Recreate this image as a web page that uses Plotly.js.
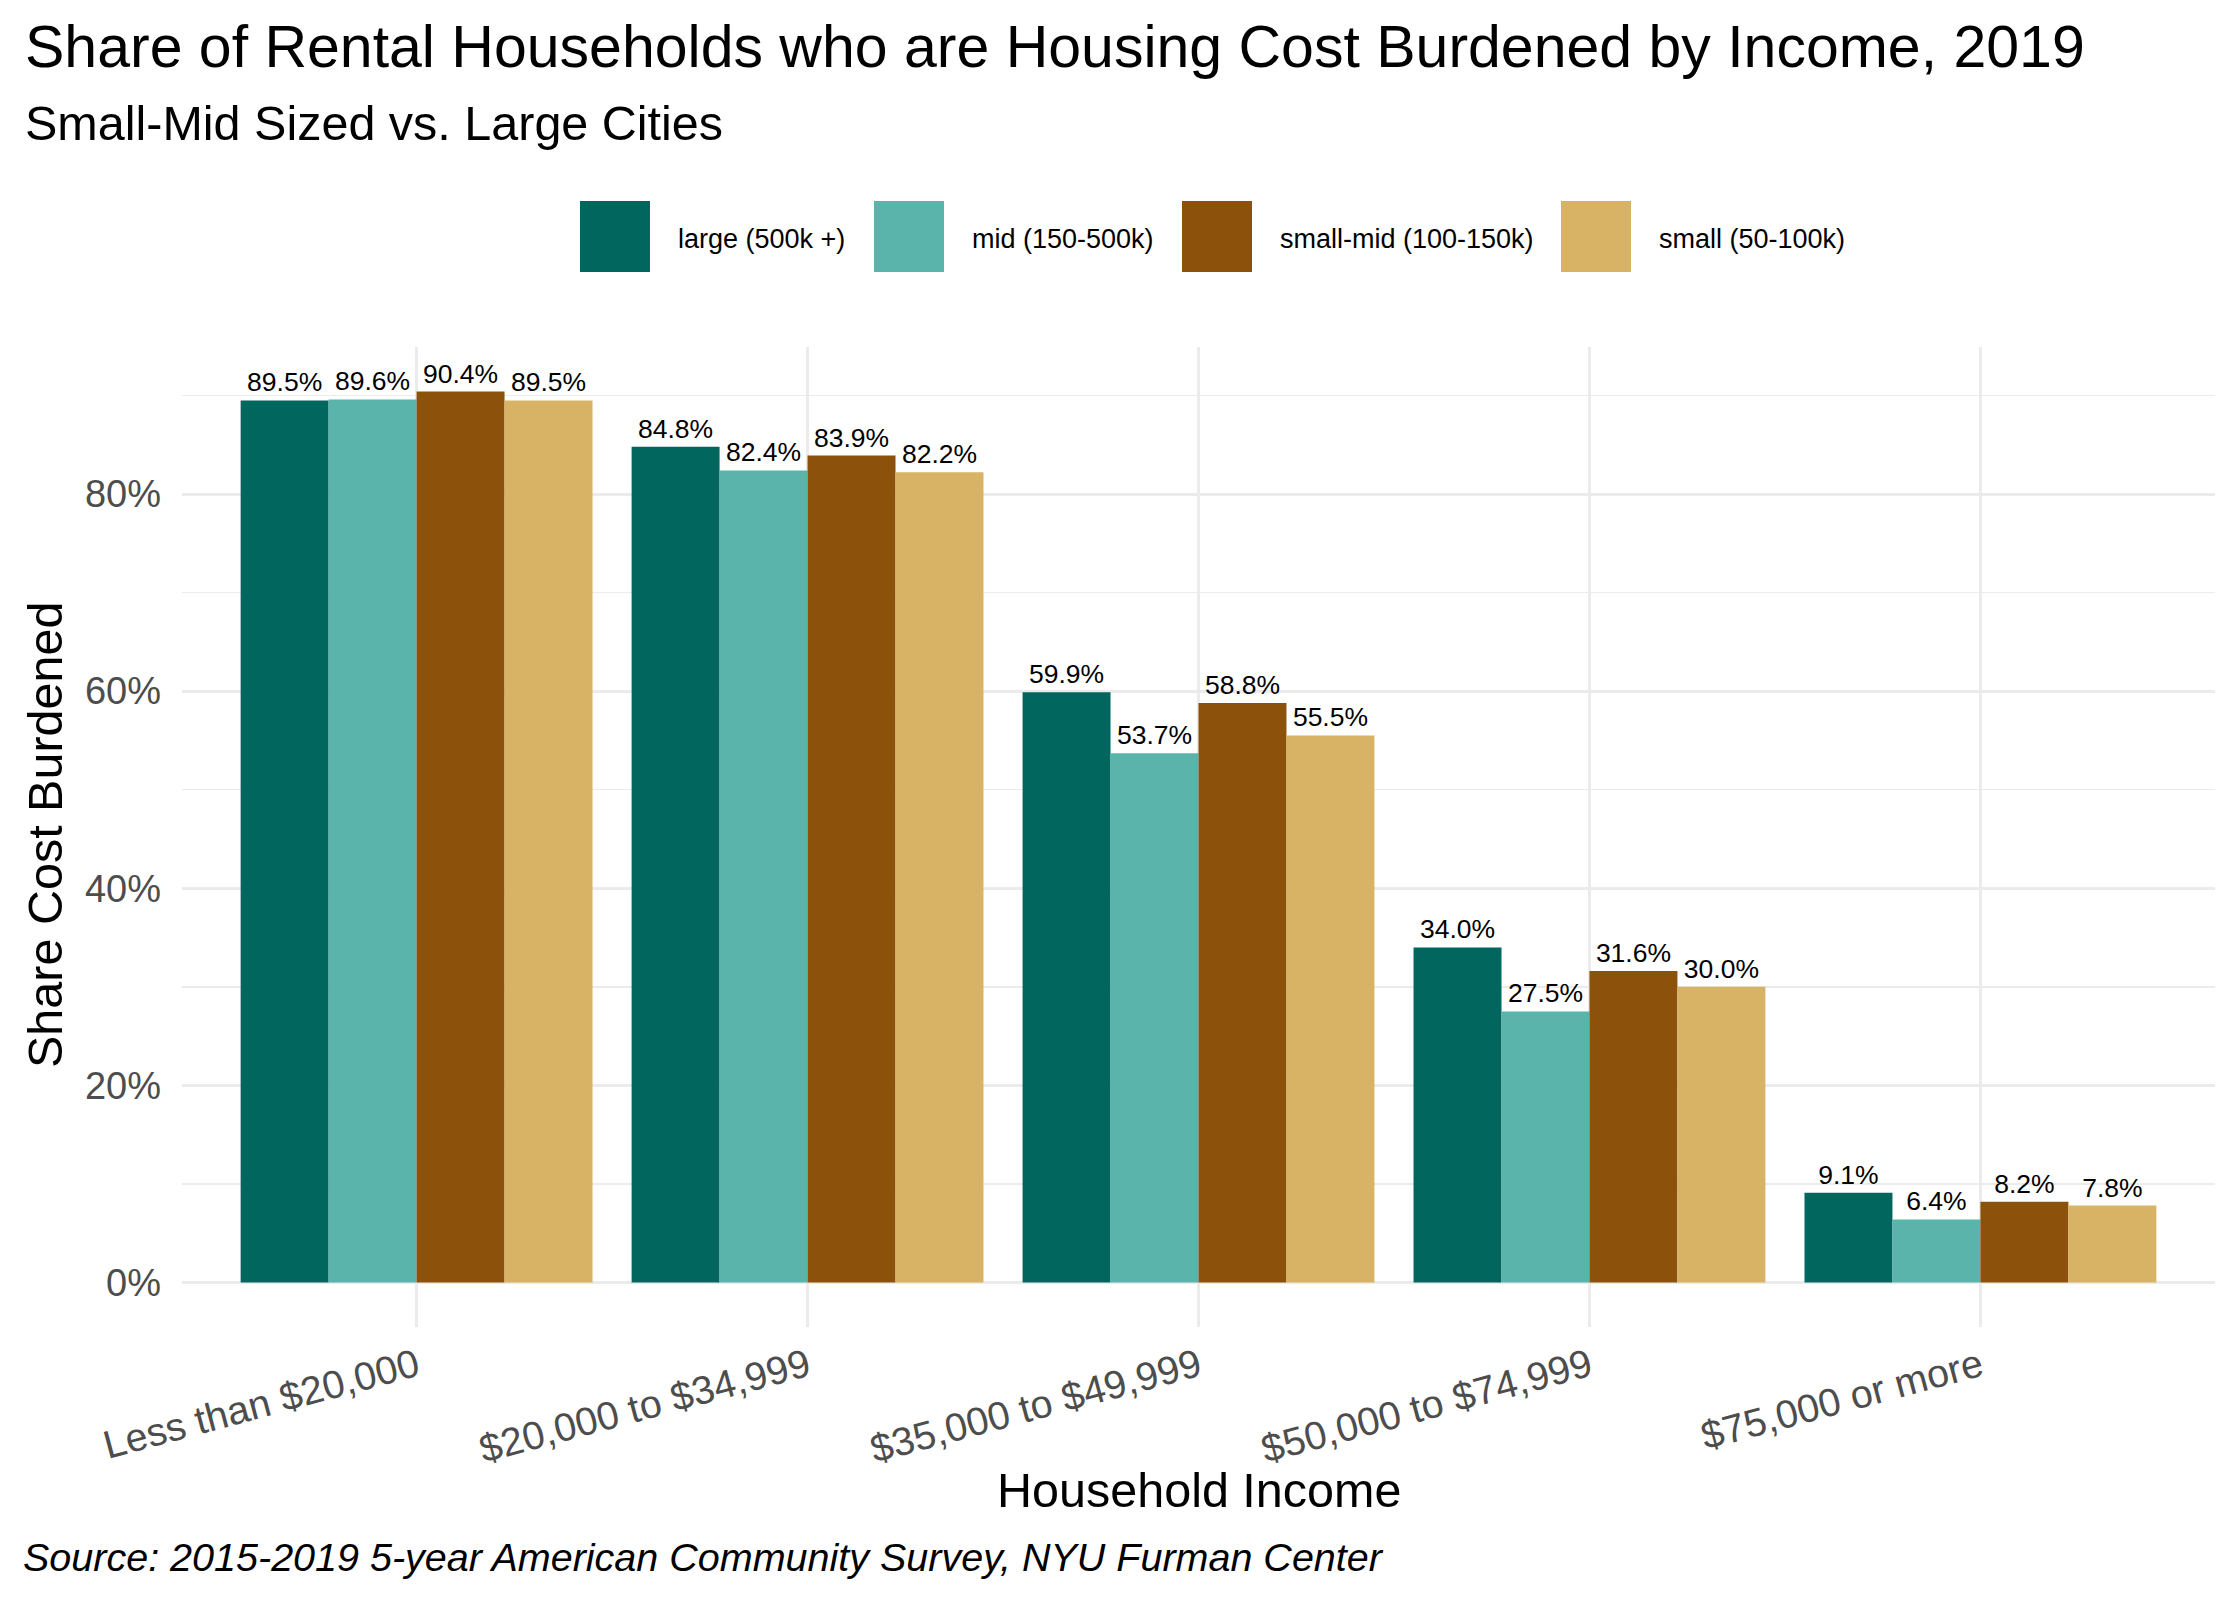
<!DOCTYPE html>
<html>
<head>
<meta charset="utf-8">
<script src="https://cdn.plot.ly/plotly-3.0.1.min.js"></script>
<style>html,body{margin:0;padding:0;background:#fff;}#chart{width:2240px;height:1600px;}</style>
</head>
<body>
<div id="chart"></div>
<script>
// ---- data ----
const categories = ["Less than $20,000", "$20,000 to $34,999", "$35,000 to $49,999", "$50,000 to $74,999", "$75,000 or more"];
const seriesNames = ["large (500k +)", "mid (150-500k)", "small-mid (100-150k)", "small (50-100k)"];
const large = [89.5, 84.8, 59.9, 34.0, 9.1];
const mid = [89.6, 82.4, 53.7, 27.5, 6.4];
const smallMid = [90.4, 83.9, 58.8, 31.6, 8.2];
const small = [89.5, 82.2, 55.5, 30.0, 7.8];
const yTickVals = [0, 20, 40, 60, 80];
const yTickText = ["0%", "20%", "40%", "60%", "80%"];

// ---- styles ----
const colors = ["#01665E", "#5AB4AC", "#8C510A", "#D8B365"];
const FONT = "Liberation Sans, Arial, Helvetica, sans-serif";
const W = 2240, H = 1600, ML = 182, MR = 25, MT = 347, MB = 273;
const PW = W - ML - MR, PH = H - MT - MB;
const px = x => (x - ML) / PW;
const py = y => (H - MB - y) / PH;

const allSeries = [large, mid, smallMid, small];
const traces = allSeries.map((vals, i) => ({
  type: "bar",
  name: seriesNames[i],
  x: categories,
  y: vals,
  marker: {color: colors[i], line: {width: 0}},
  text: vals.map(v => v.toFixed(1) + "%"),
  textposition: "outside",
  textfont: {family: FONT, size: 26.5, color: "#000000"},
  constraintext: "none",
  cliponaxis: false,
  hoverinfo: "skip",
  showlegend: false
}));

const ymax = Math.max(...allSeries.flat());
const pad = ymax * 0.05;

// manual legend (ggplot-style large keys)
const keyLeft = [580, 874, 1182, 1561];
const textLeft = [676, 970, 1278, 1657];
const keyTop = 201, keyBottom = 272, keyMid = 239;
const shapes = seriesNames.map((n, i) => ({
  type: "rect", xref: "paper", yref: "paper",
  x0: px(keyLeft[i]), x1: px(keyLeft[i] + 70),
  y0: py(keyBottom), y1: py(keyTop),
  fillcolor: colors[i], line: {width: 0}
}));
const annotations = seriesNames.map((n, i) => ({
  xref: "paper", yref: "paper", x: px(textLeft[i]), y: py(keyMid),
  xanchor: "left", yanchor: "middle", showarrow: false,
  text: n, font: {family: FONT, size: 27, color: "#000000"}
}));

annotations.push(
  {xref: "paper", yref: "paper", x: px(23), y: py(47), xanchor: "left", yanchor: "middle", showarrow: false,
   text: "Share of Rental Households who are Housing Cost Burdened by Income, 2019",
   font: {family: FONT, size: 59, color: "#000000"}},
  {xref: "paper", yref: "paper", x: px(23), y: py(123), xanchor: "left", yanchor: "middle", showarrow: false,
   text: "Small-Mid Sized vs. Large Cities",
   font: {family: FONT, size: 48.5, color: "#000000"}},
  {xref: "paper", yref: "paper", x: px(1199), y: py(1490), xanchor: "center", yanchor: "middle", showarrow: false,
   text: "Household Income", font: {family: FONT, size: 48.5, color: "#000000"}},
  {xref: "paper", yref: "paper", x: px(45), y: py(835), xanchor: "center", yanchor: "middle", showarrow: false,
   textangle: -90, text: "Share Cost Burdened", font: {family: FONT, size: 48.5, color: "#000000"}},
  {xref: "paper", yref: "paper", x: px(21), y: py(1557), xanchor: "left", yanchor: "middle", showarrow: false,
   text: "<i>Source: 2015-2019 5-year American Community Survey, NYU Furman Center</i>",
   font: {family: FONT, size: 39.5, color: "#000000"}}
);

const layout = {
  width: W, height: H,
  margin: {l: ML, r: MR, t: MT, b: MB, autoexpand: false},
  paper_bgcolor: "#ffffff", plot_bgcolor: "#ffffff",
  barmode: "group", bargap: 0.1, bargroupgap: 0,
  showlegend: false, hovermode: false,
  xaxis: {
    type: "category", range: [-0.6, categories.length - 0.4],
    showgrid: true, gridcolor: "#EBEBEB", gridwidth: 3,
    zeroline: false, showline: false, ticks: "",
    tickangle: -15, ticklabelstandoff: 8,
    tickfont: {family: FONT, size: 39.5, color: "#4D4D4D"},
    automargin: false, fixedrange: true
  },
  yaxis: {
    range: [-pad, ymax + pad],
    tickvals: yTickVals, ticktext: yTickText,
    showgrid: true, gridcolor: "#EBEBEB", gridwidth: 3,
    minor: {dtick: 10, tick0: 0, showgrid: true, gridcolor: "#EBEBEB", gridwidth: 1.5, ticks: ""},
    zeroline: false, showline: false, ticks: "",
    ticklabelstandoff: 20,
    tickfont: {family: FONT, size: 38, color: "#4D4D4D"},
    automargin: false, fixedrange: true
  },
  shapes: shapes,
  annotations: annotations
};

Plotly.newPlot("chart", traces, layout, {staticPlot: true, displayModeBar: false});
</script>
</body>
</html>
